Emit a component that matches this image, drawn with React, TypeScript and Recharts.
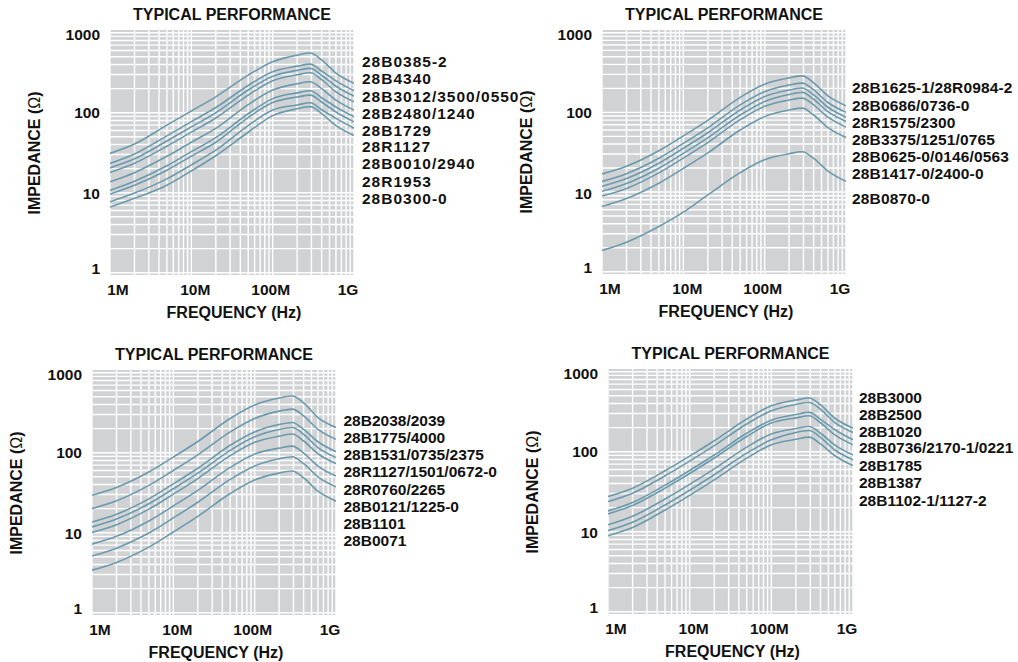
import React from 'react';
import { LineChart, Line, XAxis, YAxis, CartesianGrid } from 'recharts';

// ---------- data ----------
const freqs = [1e6, 2e6, 5e6, 1e7, 2e7, 5e7, 1e8, 2e8, 2.9e8, 4e8, 6e8, 1e9];

const xTicks = [1e6, 1e7, 1e8, 1e9];
const xTickLabels = ['1M', '10M', '100M', '1G'];
const yTicks = [1, 10, 100, 1000];
const yTickLabels = ['1', '10', '100', '1000'];
const mantissas = [1, 2, 3, 4, 5, 6, 7, 8, 9];
const xGrid = [1e6, 1e7, 1e8].flatMap((d) => mantissas.map((m) => m * d)).concat([1e9]);
const yGrid = [1, 10, 100].flatMap((d) => mantissas.map((m) => m * d)).concat([1000]);

const titleText = 'TYPICAL PERFORMANCE';
const xTitle = 'FREQUENCY (Hz)';

const panel1Names = ['28B0385-2', '28B4340', '28B3012/3500/0550', '28B2480/1240', '28B1729', '28R1127', '28B0010/2940', '28R1953', '28B0300-0'];
const panel1Series = [
  [31, 40.6, 70, 105, 158, 295, 434, 525, 558, 458, 312, 233],
  [23.2, 30.4, 51.3, 77.3, 116, 219, 325, 382, 405, 332, 250, 188],
  [20.4, 26.5, 44.3, 66.5, 100, 192, 286, 338, 358, 294, 214, 161],
  [17.9, 23.3, 38.1, 57.1, 85.9, 166, 251, 298, 316, 259, 182, 137],
  [13.7, 17.8, 28.5, 42.7, 63.7, 126, 192, 230, 244, 200, 144, 108],
  [10.7, 13.9, 21.7, 32.6, 48.7, 97, 150, 177, 188, 154, 118, 89],
  [9.6, 12.4, 19.1, 28.6, 42.7, 87, 134, 157, 166, 136, 102, 77],
  [7.7, 9.9, 14.9, 22.3, 34, 69, 108, 125, 133, 109, 85, 64],
  [6.6, 8.5, 12.4, 18.7, 29, 57, 92, 112, 119, 97.6, 69, 52],
];

const panel2Names = ['28B1625-1/28R0984-2', '28B0686/0736-0', '28R1575/2300', '28B3375/1251/0765', '28B0625-0/0146/0563', '28B1417-0/2400-0', '28B0870-0'];
const panel2Series = [
  [16.9, 21.1, 33, 50.7, 79.4, 154, 226, 271, 287, 235, 161, 121],
  [13.6, 17, 26.5, 40.8, 63.9, 124, 182, 220, 233, 191, 133, 100],
  [11.8, 14.8, 23, 35.4, 55.5, 107, 158, 191, 202, 166, 116, 87],
  [10.2, 12.8, 19.9, 30.6, 47.9, 92.8, 137, 168, 178, 146, 102, 77],
  [8.9, 11.1, 17.4, 26.7, 41.8, 81, 119, 143, 151, 124, 87, 65.5],
  [6.6, 8.3, 12.9, 19.8, 31, 60, 88.4, 107, 113, 92.7, 64.5, 48.5],
  [1.85, 2.35, 3.7, 5.6, 9.2, 17.5, 25.5, 30.3, 32, 26.5, 18.3, 13.6],
];

const panel3Names = ['28B2038/2039', '28B1775/4000', '28B1531/0735/2375', '28R1127/1501/0672-0', '28R0760/2265', '28B0121/1225-0', '28B1101', '28B0071'];
const panel3Series = [
  [29.4, 36.8, 57.3, 88.2, 138, 268, 394, 482, 511, 419, 275, 207],
  [20, 25, 39, 60, 94, 182, 268, 331, 351, 288, 196, 147],
  [13.6, 17, 26.5, 40.8, 63.9, 124, 182, 225, 239, 196, 137, 103],
  [11.8, 14.8, 23, 35.4, 55.5, 107, 158, 195, 207, 170, 116, 87],
  [10.1, 12.6, 19.7, 30.3, 47.5, 91.9, 135, 161, 171, 140, 97, 73],
  [7.2, 9, 14, 21.6, 33.8, 65.5, 96.5, 114, 121, 99, 68, 51],
  [5.1, 6.4, 9.9, 15.3, 24, 46.4, 68.3, 84, 89, 73, 50, 37.4],
  [3.4, 4.25, 6.6, 10.2, 16, 30.9, 45.6, 55.6, 59, 48.4, 33, 24.8],
];

const panel4Names = ['28B3000', '28B2500', '28B1020', '28B0736/2170-1/0221', '28B1785', '28B1387', '28B1102-1/1127-2'];
const panel4Series = [
  [27.5, 35, 57.8, 88, 137, 256, 375, 442, 469, 385, 262, 197],
  [23.8, 30.3, 50, 76.2, 119, 222, 325, 390, 413, 339, 231, 174],
  [18.2, 23.2, 38.2, 58.2, 91, 170, 248, 292, 310, 254, 188, 141],
  [16.7, 21.3, 35.1, 53.4, 83.5, 155, 228, 265, 281, 230, 162, 122],
  [12.2, 15.6, 25.6, 39, 61, 114, 167, 195, 207, 170, 121, 91],
  [10.3, 13.1, 21.6, 33, 51.5, 96, 141, 174, 184, 151, 105, 79],
  [8.9, 11.3, 18.7, 28.5, 44.5, 83, 122, 143, 152, 125, 89, 67],
];

// ---------- style / layout ----------
const LINE = '#6a9aae';
const BG = '#d1d2d4';
const FONT = '"Liberation Sans", Arial, Helvetica, sans-serif';
const FS = 15.5;
const FS_TITLE = 16;
const xDomain = [1e6, 1e9];
const yDomain = [0.936, 1081];
const xLabelShift = [8, 4, -2, -6];
const yLabelShift = [-4, 1, 0, 2];

const layouts = [
  { left: 110, top: 30, w: 244, h: 245, legendX: 362, legendSpacing: 1.0, legendYs: [61.5, 78.5, 96.5, 113.5, 130.5, 147, 164, 181.5, 199], names: panel1Names, series: panel1Series },
  { left: 602, top: 30, w: 244, h: 244, legendX: 852, legendSpacing: 0.15, legendYs: [88.3, 106, 122.7, 140, 157.3, 174, 199], names: panel2Names, series: panel2Series },
  { left: 92, top: 370, w: 244, h: 245, legendX: 343.5, legendSpacing: 0, legendYs: [421, 438, 455, 472.3, 490, 506.7, 523.5, 540.7], names: panel3Names, series: panel3Series },
  { left: 608, top: 369, w: 245, h: 245, legendX: 859, legendSpacing: 0, legendYs: [397.7, 415, 431.7, 448.3, 466, 483.3, 501], names: panel4Names, series: panel4Series },
];

const Y_AXIS_W = 60;
const X_AXIS_H = 48;
const MR = 20;
const MT = 12;

const XTick = (props: any) => {
  const { x, y, payload } = props;
  const i = xTicks.indexOf(payload.value);
  return (
    <text x={x + (xLabelShift[i] || 0)} y={y + 14} textAnchor="middle" dominantBaseline="central"
      style={{ fontFamily: FONT, fontWeight: 700, fontSize: FS, fill: '#111' }}>
      {xTickLabels[i]}
    </text>
  );
};

const YTick = (props: any) => {
  const { x, y, payload } = props;
  const i = yTicks.indexOf(payload.value);
  return (
    <text x={x} y={y + (yLabelShift[i] || 0)} textAnchor="end" dominantBaseline="central"
      style={{ fontFamily: FONT, fontWeight: 700, fontSize: FS, fill: '#111' }}>
      {yTickLabels[i]}
    </text>
  );
};

const textBase: React.CSSProperties = {
  position: 'absolute',
  fontFamily: FONT,
  fontWeight: 700,
  fontSize: FS,
  lineHeight: 1,
  color: '#111',
  whiteSpace: 'nowrap',
};

function Panel({ cfg }: { cfg: any }) {
  const { left, top, w, h, legendX, legendYs, legendSpacing, names, series } = cfg;
  const data = freqs.map((f, i) => {
    const row: any = { f };
    series.forEach((s: number[], k: number) => {
      row['s' + k] = s[i];
    });
    return row;
  });
  const cx = left + w / 2;
  const cy = top + h / 2;
  return (
    <>
      <div style={{ position: 'absolute', left: left - Y_AXIS_W, top: top - MT }}>
        <LineChart width={w + Y_AXIS_W + MR} height={h + MT + X_AXIS_H} data={data}
          margin={{ top: MT, right: MR, bottom: 0, left: 0 }}>
          <CartesianGrid fill={BG} fillOpacity={1} stroke="#ffffff" strokeWidth={1.4}
            verticalValues={xGrid} horizontalValues={yGrid} syncWithTicks />
          <XAxis dataKey="f" type="number" scale="log" domain={xDomain} allowDataOverflow
            ticks={xTicks} interval={0} tick={<XTick />} axisLine={false} tickLine={false}
            tickSize={0} tickMargin={0} height={X_AXIS_H} />
          <YAxis type="number" scale="log" domain={yDomain} allowDataOverflow
            ticks={yTicks} interval={0} tick={<YTick />} axisLine={false} tickLine={false}
            tickSize={0} tickMargin={10} width={Y_AXIS_W} />
          {series.map((_: any, k: number) => (
            <Line key={k} type="monotone" dataKey={'s' + k} stroke={LINE} strokeWidth={1.6}
              dot={false} isAnimationActive={false} />
          ))}
        </LineChart>
      </div>
      <div style={{ ...textBase, fontSize: FS_TITLE, left: cx, top: top - 15, transform: 'translate(-50%, -50%)' }}>{titleText}</div>
      <div style={{ ...textBase, fontSize: FS_TITLE, left: cx + 2, top: top + h + 37.5, transform: 'translate(-50%, -50%)' }}>{xTitle}</div>
      <div style={{ ...textBase, fontSize: FS_TITLE, left: left - 75, top: cy, transform: 'translate(-50%, -50%) rotate(-90deg)' }}>
        IMPEDANCE (<span style={{ fontWeight: 400 }}>Ω</span>)
      </div>
      {names.map((n: string, k: number) => (
        <div key={n} style={{ ...textBase, letterSpacing: legendSpacing, left: legendX, top: legendYs[k], transform: 'translateY(-50%)' }}>{n}</div>
      ))}
    </>
  );
}

export default function App() {
  return (
    <div style={{ position: 'absolute', left: 0, top: 0, width: 1018, height: 662, background: '#fff', overflow: 'hidden' }}>
      {layouts.map((cfg, i) => (
        <Panel key={i} cfg={cfg} />
      ))}
    </div>
  );
}
